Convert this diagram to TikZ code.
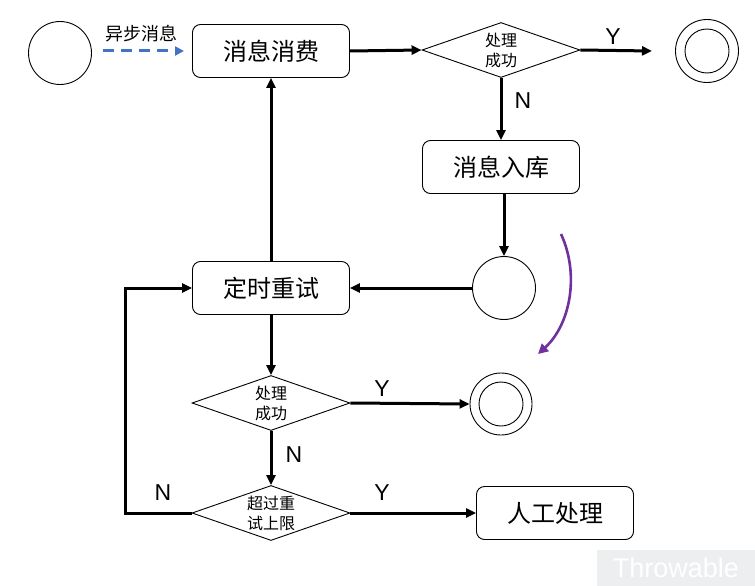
\documentclass[tikz,border=0pt]{standalone}
\usepackage{fontspec}
\setmainfont{Liberation Sans}
\newfontfamily\cjk{Noto Sans CJK SC}
\usetikzlibrary{shapes.geometric,arrows.meta}
\definecolor{dashblue}{RGB}{68,114,196}
\definecolor{arcpurple}{RGB}{112,48,160}
\definecolor{wmgray}{RGB}{236,238,240}
\begin{document}
\begin{tikzpicture}[x=1pt,y=-1pt,
  boxst/.style={draw,line width=0.9pt,rounded corners=8pt,minimum width=157pt,minimum height=53pt,font=\cjk\fontsize{24}{27}\selectfont},
  decst/.style={draw,line width=0.9pt,diamond,aspect=2.87,minimum width=158pt,minimum height=55pt,inner sep=0pt,align=center,font=\cjk\fontsize{16}{20}\selectfont},
  circst/.style={draw,line width=0.9pt,circle,minimum size=63pt,inner sep=0pt},
  flow/.style={line width=3pt,-{Triangle[length=10pt,width=9pt]}},
  yn/.style={font=\fontsize{23}{25}\selectfont}]
\useasboundingbox (0,0) rectangle (755,586);
% nodes
\node[circst] (start) at (60,53) {};
\node[boxst] (consume) at (271,51) {消息消费};
\node[decst] (d1) at (501,50) {处理\\成功};
\node[circst] (end1) at (707,51) {};
\node[circle,draw,line width=0.9pt,minimum size=44pt,inner sep=0pt] (end1in) at (707,51) {};
\node[boxst] (store) at (501,167) {消息入库};
\node[circst] (wait) at (504,288) {};
\node[boxst] (retry) at (271,288) {定时重试};
\node[decst] (d2) at (271,403) {处理\\成功};
\node[circle,draw,line width=0.9pt,minimum size=62pt,inner sep=0pt] (end2) at (501,404) {};
\node[circle,draw,line width=0.9pt,minimum size=44pt,inner sep=0pt] (end2in) at (501,404) {};
\node[decst] (d3) at (271,513) {超过重\\试上限};
\node[boxst] (manual) at (555,513) {人工处理};
% labels
\node[font=\cjk\fontsize{18}{20}\selectfont] (asynclbl) at (141,34) {异步消息};
\coordinate (a0) at (103,51);
\coordinate (a1) at (184,51);
\draw[dashblue,line width=3pt,dash pattern=on 11pt off 7pt,-{Triangle[length=9pt,width=9pt]}] (a0) -- (a1);
% connectors
\draw[flow] (consume.east) -- (d1.west);
\draw[flow] (d1.east) -- (652,51) coordinate (y1end);
\node[yn] (y1) at (613,37) {Y};
\draw[flow] (d1.south) -- (store.north);
\node[yn] (n1) at (523,101) {N};
\draw[flow] (504,194) -- (wait.north);
\draw[flow] (wait.west) -- (retry.east);
\draw[flow] (retry.north) -- (consume.south);
\draw[flow] (retry.south) -- (d2.north);
\draw[flow] (d2.east) -- (end2.west);
\node[yn] (y2) at (382,389) {Y};
\draw[flow] (d2.south) -- (d3.north);
\node[yn] (n2) at (294,455) {N};
\draw[flow] (d3.east) -- (manual.west);
\node[yn] (y3) at (382,493) {Y};
\coordinate (c1) at (125,513);
\coordinate (c2) at (125,288);
\draw[flow] (d3.west) -- (c1) -- (c2) -- (retry.west);
\node[yn] (n3) at (163,493) {N};
% purple arc
\coordinate (p0) at (561,234);
\coordinate (p1) at (538,354);
\draw[arcpurple,line width=2.6pt,-{Triangle[length=10pt,width=10pt]}] (p0) .. controls (580,275) and (570,325) .. (p1);
% watermark
\node[fill=wmgray,minimum width=158pt,minimum height=36pt,inner sep=0pt,text=white,font=\fontsize{27}{30}\selectfont,anchor=south east] (wm) at (755,586) {Throwable};
\end{tikzpicture}
\end{document}
